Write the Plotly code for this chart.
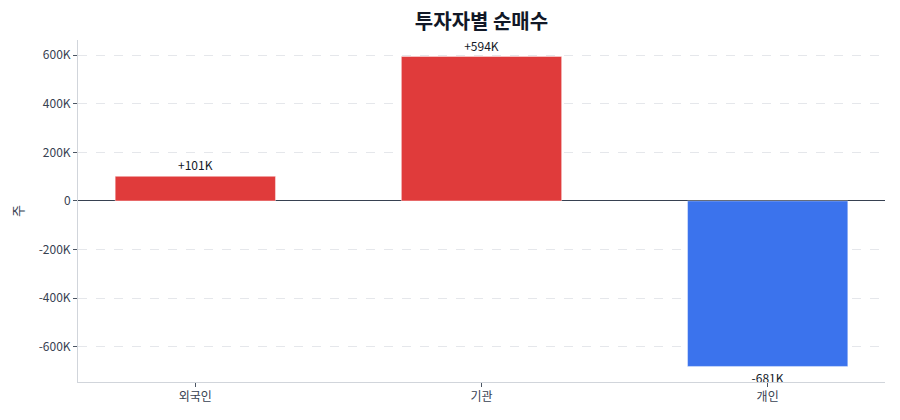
import plotly.graph_objects as go

investors = ["외국인", "기관", "개인"]
net_buy = [101000, 594000, -681000]
labels = ["+101K", "+594K", "-681K"]
colors = ["#e03b3b" if v >= 0 else "#3b73ed" for v in net_buy]

font = "Noto Sans CJK KR, Noto Sans, sans-serif"

fig = go.Figure(
    go.Bar(
        x=investors,
        y=net_buy,
        text=labels,
        textposition="outside",
        textfont={"size": 12, "color": "#111827"},
        marker={"color": colors, "line": {"color": "rgba(255,255,255,0.4)", "width": 1}},
        width=0.56,
        cliponaxis=False,
        hoverinfo="skip",
    )
)

fig.update_layout(
    width=900,
    height=420,
    margin={"l": 70, "r": 23, "t": 32, "b": 46, "autoexpand": False},
    paper_bgcolor="white",
    plot_bgcolor="white",
    font={"family": font, "size": 12, "color": "#374151"},
    title={"text": "<b>투자자별 순매수</b>", "x": 0.5, "xref": "paper",
           "y": 0.966, "yanchor": "middle",
           "font": {"size": 20, "color": "#111827"}},
    showlegend=False,
    xaxis={
        "range": [-0.41, 2.41],
        "showline": True, "linecolor": "#d1d5db", "linewidth": 1,
        "ticks": "outside", "ticklen": 4, "tickcolor": "#4b5563",
        "showgrid": False,
        "tickfont": {"size": 12, "color": "#374151"},
    },
    yaxis={
        "title": {"text": "주", "standoff": 15, "font": {"size": 13}},
        "range": [-745000, 662000],
        "tickvals": [-600000, -400000, -200000, 0, 200000, 400000, 600000],
        "ticktext": ["-600K", "-400K", "-200K", "0", "200K", "400K", "600K"],
        "showline": True, "linecolor": "#d1d5db", "linewidth": 1,
        "ticks": "outside", "ticklen": 4, "tickcolor": "#4b5563",
        "showgrid": True, "gridcolor": "#e5e7eb", "griddash": "dash",
        "zeroline": True, "zerolinecolor": "#374151", "zerolinewidth": 1,
        "tickfont": {"size": 12, "color": "#374151"},
    },
)

fig.write_html("out.html")
